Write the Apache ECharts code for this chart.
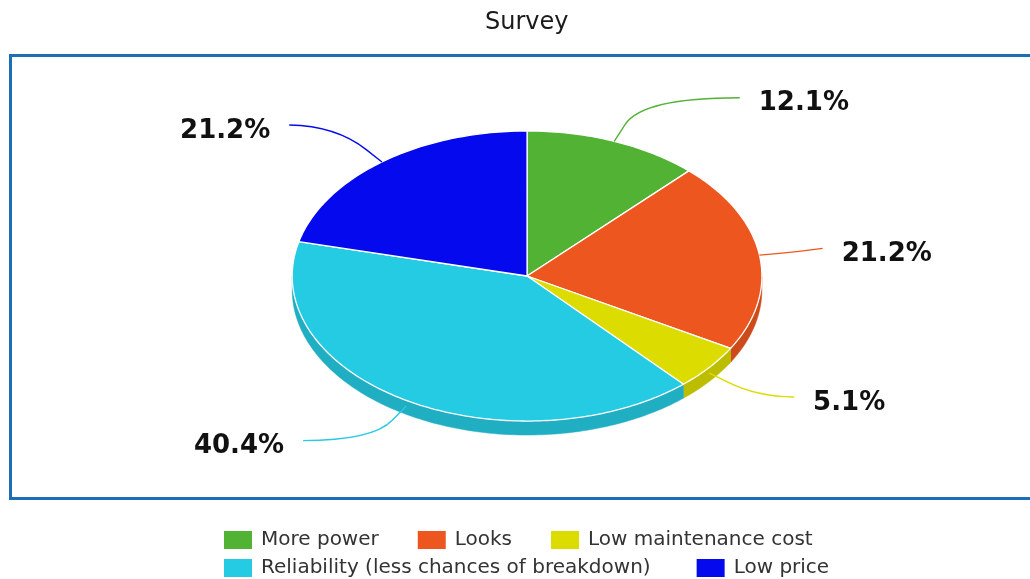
<!DOCTYPE html>
<html>
<head>
<meta charset="utf-8">
<title>Survey</title>
<script src="https://cdn.jsdelivr.net/npm/echarts@6/dist/echarts.min.js"></script>
<style>
  html, body { margin: 0; padding: 0; background: #fff; }
  #chart { width: 1030px; height: 579px; }
</style>
</head>
<body>
<div id="chart"></div>
<script>
// Survey answers (share of respondents, %)
const categories = [
  'More power',
  'Looks',
  'Low maintenance cost',
  'Reliability (less chances of breakdown)',
  'Low price'
];
const shares = [12.1, 21.2, 5.1, 40.4, 21.2];
const sliceColors = ['#52b234', '#ee561f', '#dcdc00', '#25cae3', '#0509ee'];

const total = shares.reduce((a, b) => a + b, 0);
const TAU = Math.PI * 2;

// darker shade for the rim of the disc
function shade(color, k) {
  const c = echarts.color.parse(color);
  return 'rgb(' + Math.round(c[0] * k) + ',' + Math.round(c[1] * k) + ',' + Math.round(c[2] * k) + ')';
}

// Tilted pie geometry (relative to the canvas)
function geom(api) {
  const w = api.getWidth(), h = api.getHeight();
  return {
    cx: w * 0.5117, cy: h * 0.4767,
    rx: w * 0.228, ry: h * 0.2505,
    depth: 14
  };
}

function pt(g, a, dz) {
  return [g.cx + g.rx * Math.sin(a), g.cy - g.ry * Math.cos(a) + (dz || 0)];
}

function arcPoints(g, a0, a1, dz) {
  const pts = [];
  const n = Math.max(2, Math.ceil((a1 - a0) / (Math.PI / 180)));
  for (let k = 0; k <= n; k++) pts.push(pt(g, a0 + (a1 - a0) * k / n, dz));
  return pts;
}

function makeRender(idx) {
  return function (params, api) {
    const g = geom(api);
    const v = api.value(0);
    let start = 0;
    for (let j = 0; j < idx; j++) start += shares[j];
    const a0 = start / total * TAU;
    const a1 = (start + v) / total * TAU;
    const color = sliceColors[idx];
    const wall = shade(color, 0.86);
    const children = [];

    // outer wall on the near half of the disc
    const s = Math.max(a0, Math.PI / 2), e = Math.min(a1, Math.PI * 1.5);
    if (e > s) {
      const top = arcPoints(g, s, e, 0);
      const bottom = arcPoints(g, s, e, g.depth).reverse();
      children.push({
        type: 'polygon', z2: 5,
        shape: { points: top.concat(bottom) },
        style: { fill: wall, stroke: wall, lineWidth: 0.5 }
      });
    }

    // top face
    children.push({
      type: 'polygon', z2: 10,
      shape: { points: [[g.cx, g.cy]].concat(arcPoints(g, a0, a1, 0)) },
      style: { fill: color, stroke: '#ffffff', lineWidth: 1.3, lineJoin: 'round' }
    });

    // connector and value label
    const m = (a0 + a1) / 2;
    const sn = Math.sin(m), cs = Math.cos(m);
    const p0 = pt(g, m, cs < 0 ? g.depth * 0.4 : 0);
    let dx = g.rx * sn, dy = -g.ry * cs;
    const len = Math.hypot(dx, dy);
    dx /= len; dy /= len;
    const p1 = [p0[0] + dx * 20, p0[1] + dy * 20];
    const side = sn >= 0 ? 1 : -1;
    const reach = side > 0 ? 163 + 134 * Math.abs(sn) : 155 + 134 * Math.abs(sn);
    const end = [g.cx + side * reach, g.cy - 192 * cs];
    let t = Math.abs(dy) > 1e-3 ? (end[1] - p1[1]) / dy : 0;
    t = Math.max(0, Math.min(t, Math.abs(end[0] - p1[0]) * 0.5));
    const ctrl = [p1[0] + dx * t, p1[1] + dy * t];
    children.push({
      type: 'path', z2: 15,
      shape: {
        pathData: 'M' + p0[0] + ' ' + p0[1] + ' L' + p1[0] + ' ' + p1[1] +
          ' Q' + ctrl[0] + ' ' + ctrl[1] + ' ' + end[0] + ' ' + end[1]
      },
      style: { fill: null, stroke: color, lineWidth: 1.4 }
    });
    children.push({
      type: 'text', z2: 20,
      style: {
        text: v.toFixed(1) + '%',
        x: end[0] + side * 19, y: end[1] + 6,
        align: side > 0 ? 'left' : 'right',
        verticalAlign: 'middle',
        fill: '#111',
        font: 'bold 26px "DejaVu Sans", Verdana, sans-serif'
      }
    });

    return { type: 'group', children: children };
  };
}

const chart = echarts.init(document.getElementById('chart'), null, { renderer: 'canvas' });

const legendText = { fontSize: 20, color: '#333', fontFamily: '"DejaVu Sans", Verdana, sans-serif', padding: [0, 0, 0, 4] };

chart.setOption({
  backgroundColor: '#ffffff',
  animation: false,
  title: {
    text: 'Survey',
    left: 480,
    top: 6,
    textStyle: { fontSize: 24, fontWeight: 'normal', color: '#1a1a1a', fontFamily: '"DejaVu Sans", Verdana, sans-serif' }
  },
  graphic: [{
    type: 'rect',
    z: 0,
    shape: { x: 10.5, y: 55.5, width: 1030, height: 443 },
    style: { fill: null, stroke: '#1c6fb7', lineWidth: 3 }
  }],
  legend: [
    {
      data: categories.slice(0, 3),
      left: 219, top: 525,
      icon: 'rect', itemWidth: 28, itemHeight: 18, itemGap: 39,
      textStyle: legendText
    },
    {
      data: categories.slice(3),
      left: 219, top: 553,
      icon: 'rect', itemWidth: 28, itemHeight: 18, itemGap: 46,
      textStyle: legendText
    }
  ],
  series: categories.map((name, i) => ({
    type: 'custom',
    name: name,
    coordinateSystem: 'none',
    itemStyle: { color: sliceColors[i] },
    data: [[shares[i]]],
    renderItem: makeRender(i)
  }))
});
</script>
</body>
</html>
